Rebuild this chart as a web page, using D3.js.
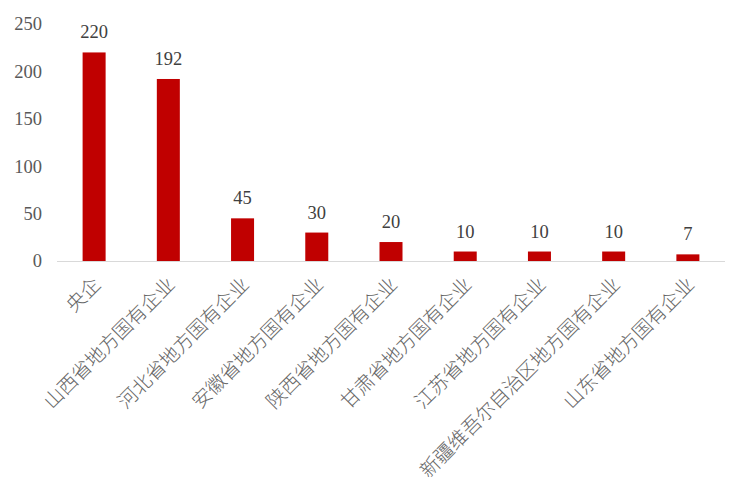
<!DOCTYPE html>
<html><head><meta charset="utf-8">
<script src="https://cdn.jsdelivr.net/npm/d3@7"></script>
<style>body{margin:0;background:#fff}</style>
</head><body>
<svg id="c" width="748" height="488"></svg>
<script>
const categories = ["央企","山西省地方国有企业","河北省地方国有企业","安徽省地方国有企业","陕西省地方国有企业","甘肃省地方国有企业","江苏省地方国有企业","新疆维吾尔自治区地方国有企业","山东省地方国有企业"];
const values = [220,192,45,30,20,10,10,10,7];
const yTicks = [0,50,100,150,200,250];

const svg = d3.select("#c");
const x = d3.scaleBand().domain(categories).range([57,725]).paddingInner(0.69).paddingOuter(0.345);
const y = d3.scaleLinear().domain([0,250]).range([261,24]);
const numFont = "'Liberation Serif','DejaVu Serif',serif";
const cjkFont = "'Liberation Serif','Noto Sans CJK SC',serif";

svg.append("g").selectAll("text").data(yTicks).join("text")
  .attr("x",42).attr("y",d=>y(d)).attr("dy","0.35em")
  .attr("text-anchor","end").attr("fill","#595959")
  .style("font-family",numFont).style("font-size","18.5px").text(d=>d);

svg.append("g").selectAll("rect").data(values).join("rect")
  .attr("x",(d,i)=>x(categories[i])).attr("width",x.bandwidth())
  .attr("y",d=>y(d)).attr("height",d=>y(0)-y(d)).attr("fill","#C00000");

svg.append("line").attr("x1",57).attr("x2",725).attr("y1",y(0)+0.5).attr("y2",y(0)+0.5)
  .attr("stroke","#D9D9D9").attr("stroke-width",1.2);

svg.append("g").selectAll("text").data(values).join("text")
  .attr("x",(d,i)=>x(categories[i])+x.bandwidth()/2).attr("y",d=>y(d)-14)
  .attr("text-anchor","middle").attr("fill","#404040")
  .style("font-family",numFont).style("font-size","18.5px").text(d=>d);

svg.append("g").selectAll("text").data(categories).join("text")
  .attr("transform",d=>`translate(${x(d)+x.bandwidth()/2-2},${y(0)+15}) rotate(-45)`)
  .attr("text-anchor","end").attr("dy","0.7em").attr("fill","#666666")
  .style("font-family",cjkFont).style("font-size","19.5px").style("font-weight","300").text(d=>d);
</script>
</body></html>
